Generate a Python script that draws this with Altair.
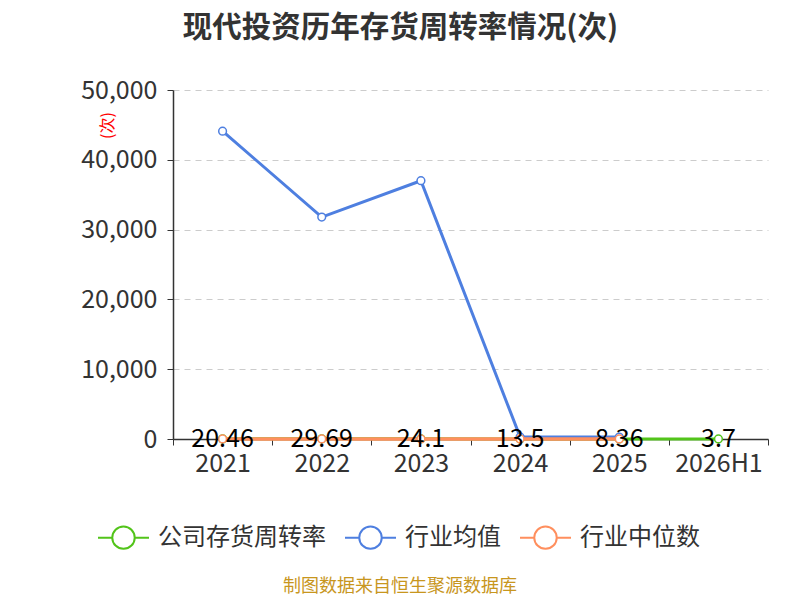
import altair as alt
import pandas as pd

years = ["2021", "2022", "2023", "2024", "2025", "2026H1"]
company = [20.46, 29.69, 24.1, 13.5, 8.36, 3.7]
industry_mean = [44100, 31800, 37000, 300, 280]
industry_median = [12.5, 11.8, 10.9, 9.6, 8.7]
series_names = ["公司存货周转率", "行业均值", "行业中位数"]
series_colors = ["#52c41a", "#4e7fe0", "#ff8f5e"]
labels = ["20.46", "29.69", "24.1", "13.5", "8.36", "3.7"]

FONT = "Noto Sans CJK SC"

rows = []
for y, v, l in zip(years, company, labels):
    rows.append({"year": y, "value": v, "series": series_names[0], "label": l})
for y, v in zip(years, industry_mean):
    rows.append({"year": y, "value": v, "series": series_names[1], "label": ""})
for y, v in zip(years, industry_median):
    rows.append({"year": y, "value": v, "series": series_names[2], "label": ""})
df = pd.DataFrame(rows)

legend_path = "M-1,0H-0.44 M0.44,0H1 M0.44,0A0.44,0.44 0 1,1 -0.44,0A0.44,0.44 0 1,1 0.44,0"

x_enc = alt.X(
    "year:N", sort=years,
    scale=alt.Scale(type="band", paddingInner=0, paddingOuter=0),
    axis=alt.Axis(title=None, tickBand="extent", labelAngle=0, labelFontSize=25,
                  labelColor="#333", domainColor="#333", tickColor="#333", tickSize=6,
                  labelPadding=6, grid=False, labelFont=FONT, domainWidth=1.5),
)
y_enc = alt.Y(
    "value:Q",
    scale=alt.Scale(domain=[0, 50000], nice=False),
    axis=alt.Axis(title="(次)", titleColor="red", titleFontSize=16, titleFontWeight="normal",
                  titleX=-66, titleY=35, titleAngle=270, titleAlign="center", titleBaseline="middle",
                  titleFont=FONT,
                  values=[0, 10000, 20000, 30000, 40000, 50000], format=",.0f",
                  labelFontSize=25, labelColor="#333", labelFont=FONT, labelPadding=10,
                  domainColor="#333", tickColor="#333", tickSize=6, domainWidth=1.5,
                  gridDash=[6, 5], gridColor="#cccccc", grid=True),
)
color_enc = alt.Color(
    "series:N",
    scale=alt.Scale(domain=series_names, range=series_colors),
    legend=alt.Legend(title=None, orient="none", legendX=-76, legendY=421, direction="horizontal",
                      columns=3, symbolType=legend_path, symbolSize=2601, symbolStrokeWidth=2,
                      symbolFillColor="white", labelFontSize=24, labelColor="#333", labelFont=FONT,
                      labelOffset=8, columnPadding=15, labelLimit=400),
)

base = alt.Chart(df)
layers = []
for name, w in zip(series_names, [3, 3, 3.5]):
    sub = base.transform_filter(alt.datum.series == name)
    layers.append(sub.mark_line(strokeWidth=w).encode(x=x_enc, y=y_enc, color=color_enc))
    layers.append(sub.mark_point(filled=False, fill="white", size=60, strokeWidth=1.5, opacity=1)
                  .encode(x=x_enc, y=y_enc, color=color_enc))

text_layer = base.transform_filter(alt.datum.series == series_names[0]).mark_text(
    fontSize=25, color="black", baseline="middle", align="center", font=FONT
).encode(x=x_enc, y=y_enc, text="label:N")

foot_df = pd.DataFrame({"t": ["制图数据来自恒生聚源数据库"]})
footer = alt.Chart(foot_df).mark_text(fontSize=18, color="#c8961e", font=FONT, align="center",
                                      baseline="middle").encode(
    x=alt.value(227), y=alt.value(497), text="t:N")

chart = alt.layer(*layers, text_layer, footer).properties(
    width=595, height=349,
    title=alt.TitleParams("现代投资历年存货周转率情况(次)", fontSize=29.5, fontWeight="bold",
                          color="#333", anchor="middle", dx=-70, offset=35, font=FONT),
    autosize=alt.AutoSizeParams(type="none"),
    padding={"left": 165, "top": 82, "right": 20, "bottom": 169},
).configure_view(stroke=None)

chart.save("out.html", embed_options={"renderer": "svg", "actions": False})
